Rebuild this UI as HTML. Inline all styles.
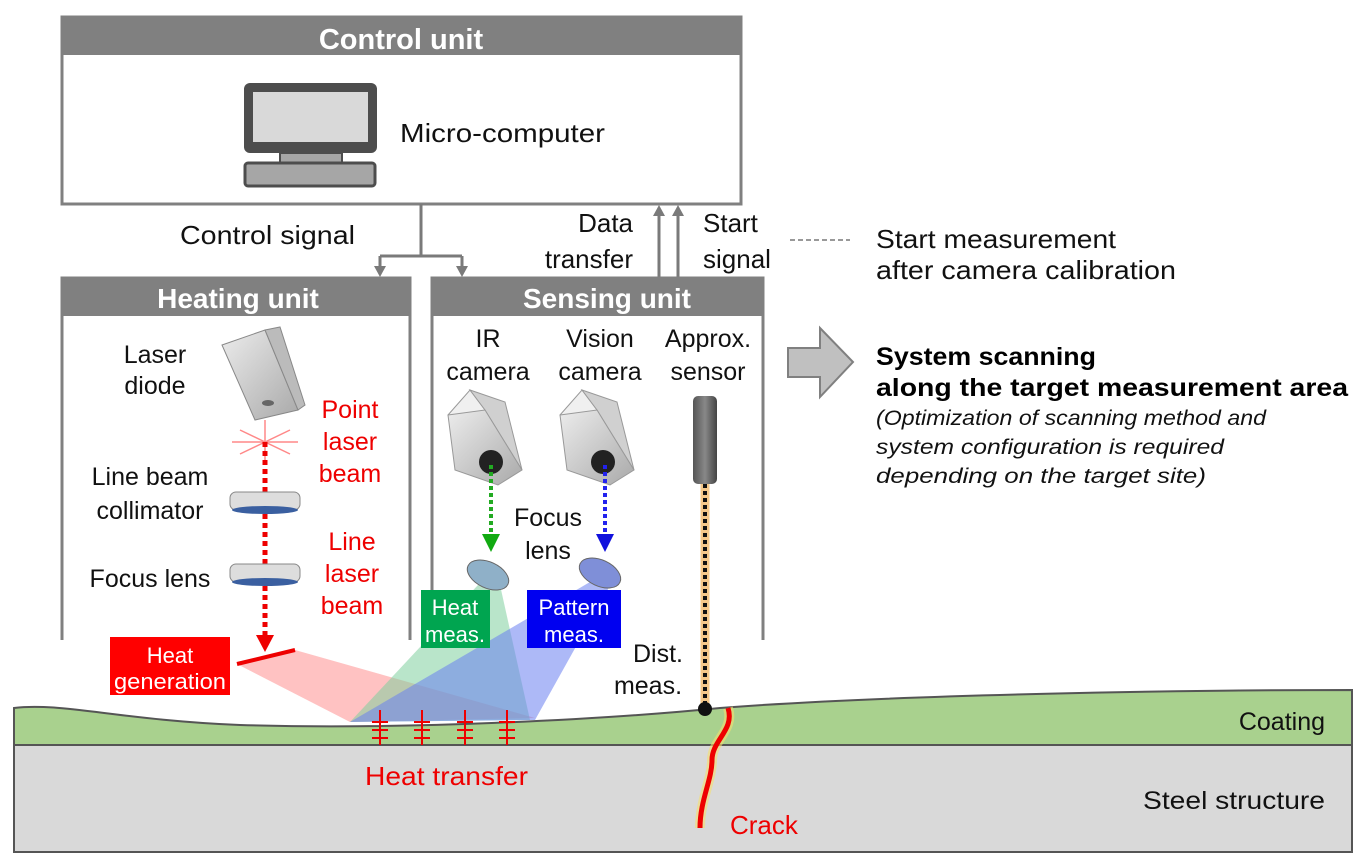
<!DOCTYPE html>
<html><head><meta charset="utf-8"><style>
html,body{margin:0;padding:0;background:#fff}
svg{display:block}
text{font-family:"Liberation Sans",sans-serif}
</style></head><body>
<svg width="1367" height="864" viewBox="0 0 1367 864" xmlns="http://www.w3.org/2000/svg">
<defs>
<linearGradient id="cam" x1="0" y1="0" x2="1" y2="1"><stop offset="0" stop-color="#ececec"/><stop offset="1" stop-color="#a9a9a9"/></linearGradient>
<linearGradient id="rod" x1="0" x2="1"><stop offset="0" stop-color="#555"/><stop offset=".5" stop-color="#888"/><stop offset="1" stop-color="#444"/></linearGradient>
</defs>
<!-- Control unit -->
<rect x="62" y="17" width="679" height="187" fill="#fff" stroke="#808080" stroke-width="3"/>
<rect x="62" y="17" width="679" height="38" fill="#808080"/>
<text x="401" y="49" font-size="29" font-weight="bold" fill="#fff" text-anchor="middle">Control unit</text>
<rect x="244" y="83" width="133" height="70" rx="6" fill="#4d4d4d"/>
<rect x="253" y="92" width="115" height="50" fill="#d9d9d9"/>
<rect x="280" y="153" width="62" height="10" fill="#a6a6a6" stroke="#4d4d4d" stroke-width="2"/>
<rect x="245" y="163" width="130" height="23" rx="3" fill="#a6a6a6" stroke="#4d4d4d" stroke-width="3"/>
<text x="400" y="142" font-size="26" fill="#111" textLength="205" lengthAdjust="spacingAndGlyphs">Micro-computer</text>
<path d="M421,204V256M380,256H462M380,256V270M462,256V270" stroke="#7a7a7a" stroke-width="3" fill="none"/>
<path d="M374,266L380,277L386,266z M456,266L462,277L468,266z" fill="#7a7a7a"/>
<text x="180" y="244" font-size="26" fill="#111" textLength="175" lengthAdjust="spacingAndGlyphs">Control signal</text>
<path d="M659,277V210M678,277V210" stroke="#7a7a7a" stroke-width="3"/>
<path d="M653,216L659,205L665,216z M672,216L678,205L684,216z" fill="#7a7a7a"/>
<text x="633" y="232" font-size="26" fill="#111" text-anchor="end">Data</text>
<text x="633" y="268" font-size="26" fill="#111" text-anchor="end">transfer</text>
<text x="703" y="232" font-size="26" fill="#111">Start</text>
<text x="703" y="268" font-size="26" fill="#111">signal</text>
<line x1="790" y1="240" x2="850" y2="240" stroke="#999" stroke-width="2" stroke-dasharray="5,3"/>
<text x="876" y="248" font-size="26" fill="#111" textLength="240" lengthAdjust="spacingAndGlyphs">Start measurement</text>
<text x="876" y="279" font-size="26" fill="#111" textLength="300" lengthAdjust="spacingAndGlyphs">after camera calibration</text>
<path d="M788,348H820V328L853,362L820,397V377H788z" fill="#c0c0c0" stroke="#808080" stroke-width="2"/>
<text x="876" y="365" font-size="25" font-weight="bold" fill="#000" textLength="220" lengthAdjust="spacingAndGlyphs">System scanning</text>
<text x="876" y="396" font-size="25" font-weight="bold" fill="#000" textLength="472" lengthAdjust="spacingAndGlyphs">along the target measurement area</text>
<g font-size="21" font-style="italic" fill="#111">
<text x="876" y="425" textLength="390" lengthAdjust="spacingAndGlyphs">(Optimization of scanning method and</text>
<text x="876" y="454" textLength="348" lengthAdjust="spacingAndGlyphs">system configuration is required</text>
<text x="876" y="483" textLength="330" lengthAdjust="spacingAndGlyphs">depending on the target site)</text>
</g>
<path d="M62,640V278H410V640" fill="#fff" stroke="#808080" stroke-width="3"/>
<rect x="62" y="278" width="348" height="38" fill="#808080"/>
<text x="238" y="308" font-size="28" font-weight="bold" fill="#fff" text-anchor="middle">Heating unit</text>
<path d="M432,640V278H763V640" fill="#fff" stroke="#808080" stroke-width="3"/>
<rect x="432" y="278" width="331" height="38" fill="#808080"/>
<text x="607" y="308" font-size="28" font-weight="bold" fill="#fff" text-anchor="middle">Sensing unit</text>
<g font-size="25" fill="#111" text-anchor="middle">
<text x="155" y="363">Laser</text><text x="155" y="394">diode</text>
<text x="150" y="485">Line beam</text><text x="150" y="519">collimator</text>
<text x="150" y="587">Focus lens</text>
</g>
<g font-size="25" fill="#e00" text-anchor="middle">
<text x="350" y="418">Point</text><text x="350" y="450">laser</text><text x="350" y="482">beam</text>
<text x="352" y="550">Line</text><text x="352" y="582">laser</text><text x="352" y="614">beam</text>
</g>
<path d="M222,345L265,330L298,410L255,420z" fill="url(#cam)" stroke="#888"/>
<path d="M265,330L280,327L305,405L298,410z" fill="#bbb" stroke="#888"/>
<ellipse cx="268" cy="403" rx="6" ry="3" fill="#666"/>
<g stroke="#f88" stroke-width="1.5">
<line x1="232" y1="442" x2="298" y2="442"/><line x1="265" y1="420" x2="265" y2="462"/>
<line x1="240" y1="430" x2="290" y2="454"/><line x1="240" y1="454" x2="290" y2="430"/>
</g>
<line x1="265" y1="442" x2="265" y2="640" stroke="#e00" stroke-width="5" stroke-dasharray="5,4"/>
<path d="M256,635L265,652L274,635z" fill="#e00"/>
<rect x="230" y="492" width="70" height="18" rx="6" fill="#ddd" stroke="#888"/><ellipse cx="265" cy="510" rx="33" ry="4" fill="#3a5fa0"/>
<rect x="230" y="564" width="70" height="18" rx="6" fill="#ddd" stroke="#888"/><ellipse cx="265" cy="582" rx="33" ry="4" fill="#3a5fa0"/>
<polygon points="237,664 295,650 535,718 350,722" fill="#f99" opacity=".6"/>
<polygon points="478,585 500,585 530,720 350,722" fill="#7fcf9f" opacity=".55"/>
<polygon points="590,582 612,582 535,720 350,722" fill="#6a7ff0" opacity=".55"/>
<line x1="237" y1="664" x2="295" y2="650" stroke="#e00" stroke-width="4"/>
<rect x="110" y="637" width="120" height="58" fill="#f00"/>
<text x="170" y="663" font-size="22" fill="#fff" text-anchor="middle">Heat</text>
<text x="170" y="689" font-size="22" fill="#fff" text-anchor="middle" textLength="112" lengthAdjust="spacingAndGlyphs">generation</text>
<g font-size="25" fill="#111" text-anchor="middle">
<text x="488" y="347">IR</text><text x="488" y="380">camera</text>
<text x="600" y="347">Vision</text><text x="600" y="380">camera</text>
<text x="708" y="347">Approx.</text><text x="708" y="380">sensor</text>
<text x="548" y="526">Focus</text><text x="548" y="559">lens</text>
<text x="658" y="662">Dist.</text><text x="648" y="694">meas.</text>
</g>
<!-- cameras as 3D boxes -->
<g>
<path d="M448,415L470,390L485,410L462,435z" fill="#f0f0f0" stroke="#999"/>
<path d="M470,390L505,402L522,470L485,410z" fill="#d0d0d0" stroke="#999"/>
<path d="M448,415L485,410L522,470L498,485L455,470z" fill="url(#cam)" stroke="#999"/>
<circle cx="491" cy="462" r="12" fill="#222"/>
<path d="M560,415L582,390L597,410L574,435z" fill="#f0f0f0" stroke="#999"/>
<path d="M582,390L617,402L634,470L597,410z" fill="#d0d0d0" stroke="#999"/>
<path d="M560,415L597,410L634,470L610,485L567,470z" fill="url(#cam)" stroke="#999"/>
<circle cx="603" cy="462" r="12" fill="#222"/>
</g>
<line x1="491" y1="465" x2="491" y2="540" stroke="#2a2" stroke-width="4" stroke-dasharray="4,3"/>
<path d="M482,534L491,552L500,534z" fill="#1a1"/>
<line x1="605" y1="465" x2="605" y2="540" stroke="#22e" stroke-width="4" stroke-dasharray="4,3"/>
<path d="M596,534L605,552L614,534z" fill="#11d"/>
<ellipse cx="488" cy="575" rx="22" ry="13" fill="#8fb0c8" stroke="#666" transform="rotate(25 488 575)"/>
<ellipse cx="600" cy="573" rx="22" ry="13" fill="#7f8fd8" stroke="#666" transform="rotate(25 600 573)"/>
<rect x="421" y="590" width="69" height="58" fill="#00a550"/>
<text x="455" y="615" font-size="22" fill="#fff" text-anchor="middle">Heat</text>
<text x="455" y="642" font-size="22" fill="#fff" text-anchor="middle">meas.</text>
<rect x="527" y="590" width="94" height="58" fill="#0000f0"/>
<text x="574" y="615" font-size="22" fill="#fff" text-anchor="middle">Pattern</text>
<text x="574" y="642" font-size="22" fill="#fff" text-anchor="middle">meas.</text>
<rect x="693" y="396" width="24" height="88" rx="5" fill="url(#rod)"/>
<line x1="705" y1="484" x2="705" y2="705" stroke="#f5c88a" stroke-width="9"/>
<line x1="705" y1="484" x2="705" y2="705" stroke="#111" stroke-width="4" stroke-dasharray="4,3"/>
<path d="M14,708 C60,702 120,720 240,725 C400,730 600,720 720,708 C900,694 1200,690 1352,690 V745 H14z" fill="#a9d18e" stroke="#555" stroke-width="2"/>
<rect x="14" y="745" width="1338" height="107" fill="#d9d9d9" stroke="#555" stroke-width="2"/>
<circle cx="705" cy="709" r="7" fill="#111"/>
<path d="M728,708 C735,730 712,740 712,760 C712,780 700,800 700,828" stroke="#f5e070" stroke-width="10" fill="none" opacity=".6"/>
<path d="M728,708 C735,730 712,740 712,760 C712,780 700,800 700,828" stroke="#e00" stroke-width="5" fill="none"/>
<g stroke="#e00" stroke-width="2" fill="none">
<path d="M380,710V745M372,722h16M372,730h16M372,738h16"/>
<path d="M422,710V745M414,722h16M414,730h16M414,738h16"/>
<path d="M465,710V745M457,722h16M457,730h16M457,738h16"/>
<path d="M507,710V745M499,722h16M499,730h16M499,738h16"/>
</g>
<text x="1325" y="730" font-size="25" fill="#111" text-anchor="end">Coating</text>
<text x="1325" y="809" font-size="25" fill="#111" text-anchor="end" textLength="182" lengthAdjust="spacingAndGlyphs">Steel structure</text>
<text x="365" y="785" font-size="26" fill="#e00" textLength="163" lengthAdjust="spacingAndGlyphs">Heat transfer</text>
<text x="730" y="834" font-size="26" fill="#e00">Crack</text>
</svg>
</body></html>
